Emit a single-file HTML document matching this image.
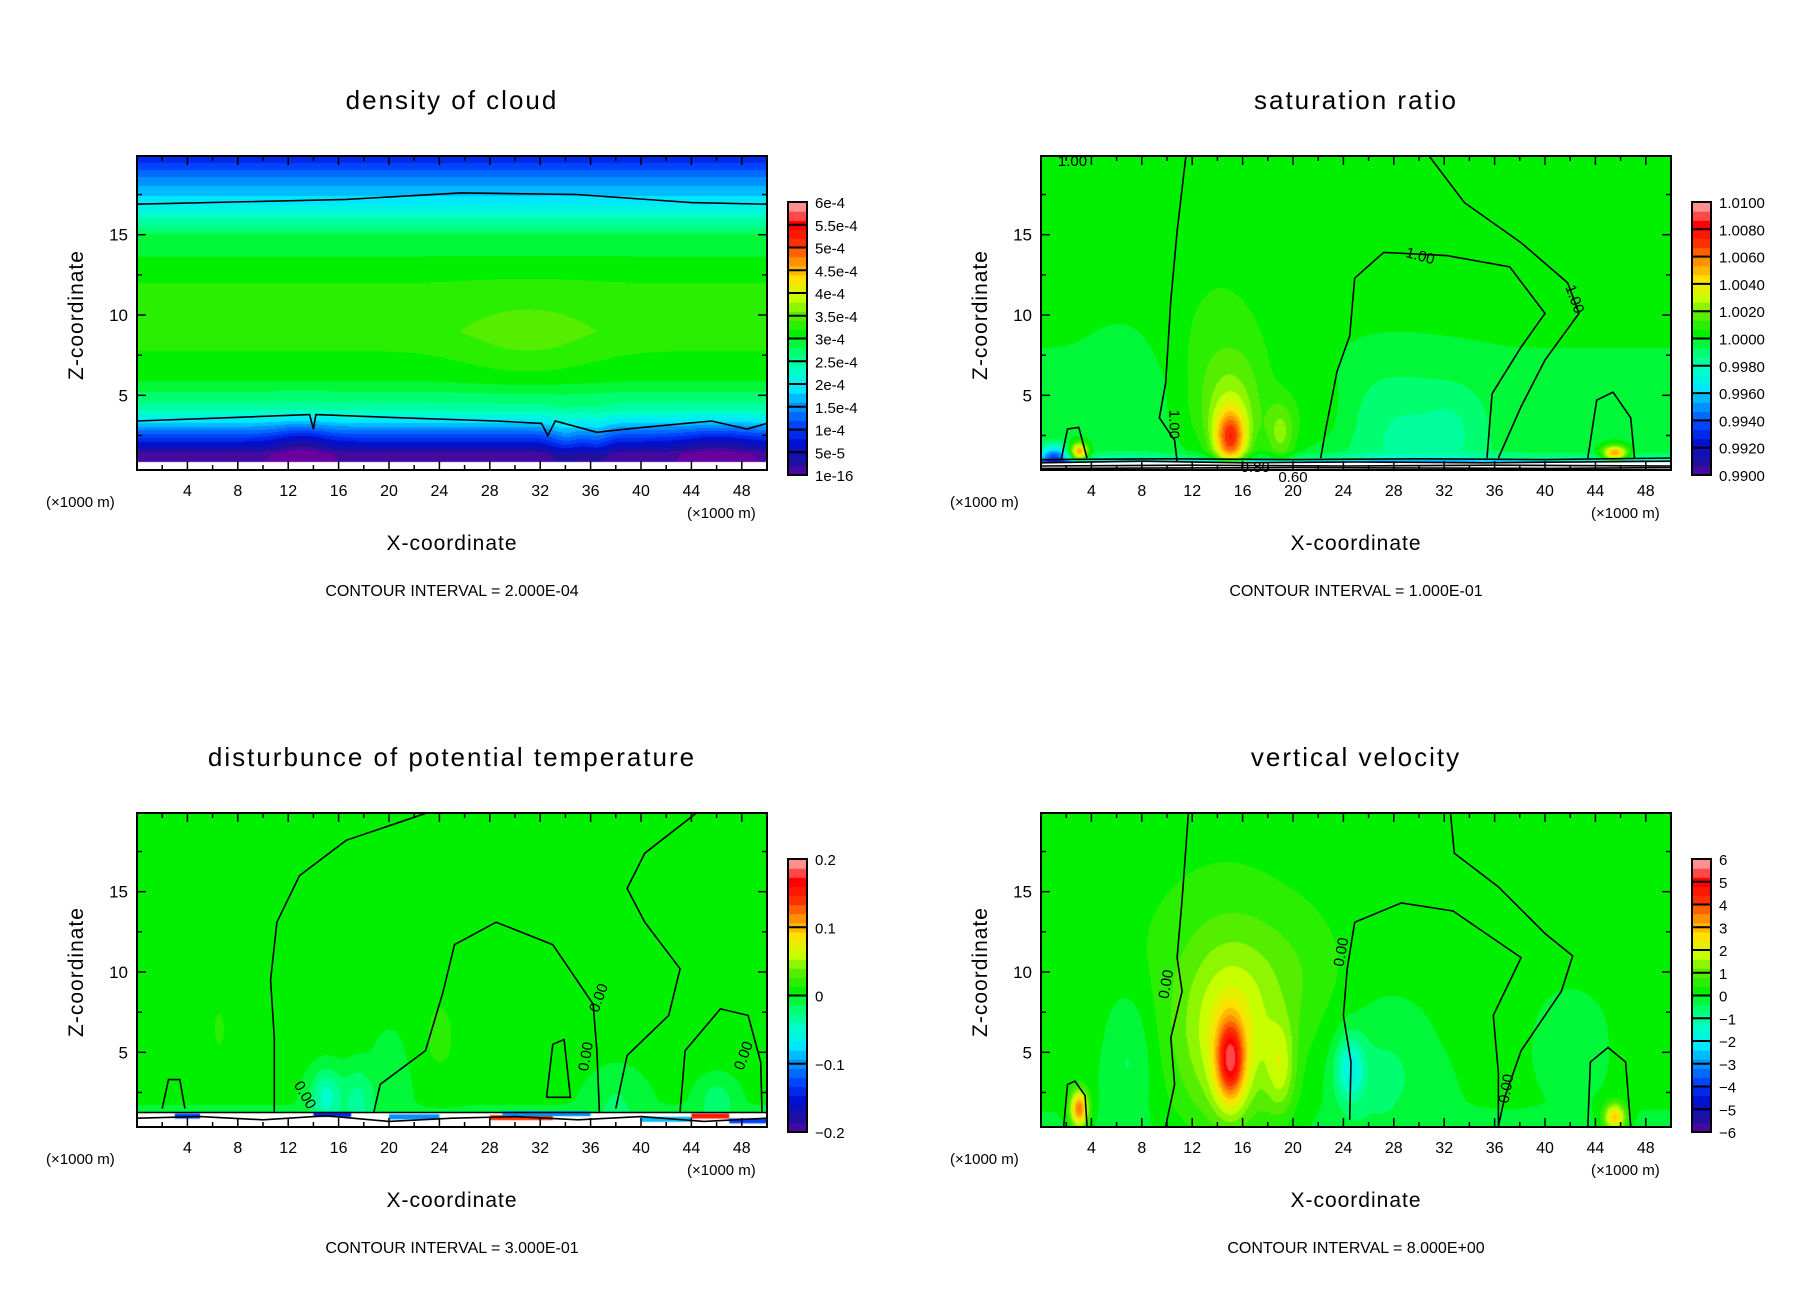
<!DOCTYPE html>
<html><head><meta charset="utf-8">
<style>
html,body{margin:0;padding:0;background:#fff;}
#root{position:relative;width:1808px;height:1308px;overflow:hidden;background:#fff;font-family:"Liberation Sans",sans-serif;}
canvas{position:absolute;}
svg{position:absolute;left:0;top:0;}
</style></head>
<body>
<div id="root">
<canvas id="c0"></canvas>
<canvas id="c1"></canvas>
<canvas id="c2"></canvas>
<canvas id="c3"></canvas>
<svg id="svg" width="1808" height="1308"></svg>
</div>
<script>
// ---- data arrays ----
const xTicks=[4,8,12,16,20,24,28,32,36,40,44,48];
const zTicks=[5,10,15];
const titles=["density of cloud","saturation ratio","disturbunce of potential temperature","vertical velocity"];
const intervals=["CONTOUR INTERVAL = 2.000E-04","CONTOUR INTERVAL = 1.000E-01","CONTOUR INTERVAL = 3.000E-01","CONTOUR INTERVAL = 8.000E+00"];
const cbLabels0=["6e-4","5.5e-4","5e-4","4.5e-4","4e-4","3.5e-4","3e-4","2.5e-4","2e-4","1.5e-4","1e-4","5e-5","1e-16"];
const cbLabels1=["1.0100","1.0080","1.0060","1.0040","1.0020","1.0000","0.9980","0.9960","0.9940","0.9920","0.9900"];
const cbLabels2=["0.2","0.1","0","\u22120.1","\u22120.2"];
const cbLabels3=["6","5","4","3","2","1","0","\u22121","\u22122","\u22123","\u22124","\u22125","\u22126"];
// vertical profiles (z, normalized level)
const prof0Z=[0.85,1.4,1.7,2.3,3.4,4.2,6,9,12,15,17,18.5,19.9];
const prof0T=[0.02,0.03,0.09,0.17,0.33,0.43,0.52,0.57,0.55,0.49,0.34,0.26,0.15];
const prof1Z=[0.9,1.1,1.6,3,6,9,12,19.9];
const prof1T=[0.3,0.44,0.5,0.51,0.51,0.52,0.53,0.53];
const prof2Z=[1.2,2,5,19.9];
const prof2T=[0.51,0.52,0.53,0.53];
const prof3Z=[0.35,2,6,19.9];
const prof3T=[0.51,0.52,0.53,0.53];
const whiteBelow=[0.85,0.85,1.25,0];
// blobs [x, z, amplitude, sx, sz]
const blobs0=[[31,8.5,0.035,4,2],[13,2,-0.06,1.5,1],[34,2.2,0.06,1,1.2],[36.5,2.2,0.05,0.8,1.2],[46,2,-0.05,2,0.8]];
const blobs1=[[15,2.3,0.3,0.9,1.3],[15,4.5,0.1,2,2.5],[14,8,0.03,4,4],[3,1.5,0.3,0.5,0.4],[45.5,1.4,0.3,0.7,0.35],[28,3,-0.06,3,2.5],[33,3,-0.05,2,2],[7,5,-0.03,2,3],[22,4,0.03,2,2],[19,2.5,0.1,0.8,1.5],[1,1.2,-0.25,0.8,0.5]];
const blobs2=[[15,2.3,-0.12,0.9,1.2],[17.5,2,-0.08,0.8,1.5],[20,3.5,-0.04,1,2],[24,6,0.03,1,2],[6.5,6.5,0.04,0.3,0.8],[38,2,-0.04,1.5,1.5],[46,2,-0.06,1,1]];
const blobs3=[[15,4.5,0.3,0.8,1.8],[15,6,0.12,2.5,4],[14,8,0.05,5,6],[19,4,0.1,0.8,2],[3,1.5,0.3,0.5,0.8],[45.5,1,0.24,0.6,0.6],[7,5,-0.06,1.5,3],[24.5,4,-0.14,0.8,1.4],[27,4,-0.05,3,3],[42,6,-0.04,2,2],[20,10,0.03,3,3]];
// contour lines (x,z pairs)
const lines0=[
 [[0,16.9],[16.6,17.2],[25.7,17.6],[34.9,17.5],[44,17],[50,16.9]],
 [[0,3.4],[7,3.6],[13.7,3.8],[14,2.9],[14.2,3.8],[21,3.6],[28.5,3.4],[32.1,3.25],[32.6,2.5],[33.2,3.4],[36.5,2.7],[40.1,3],[45.6,3.4],[48.4,2.9],[50,3.25]]];
const lines1=[
 [[11.5,19.9],[10.8,15.2],[10.3,10.9],[9.9,5.8],[9.4,3.6],[10.6,2.2],[10.8,0.9]],
 [[35.4,1.1],[35.8,5.1],[38.1,8],[40,10.1],[37.2,13],[32.2,13.7],[27.2,13.9],[24.9,12.3],[24.5,8.7],[23.5,6.5],[22.6,2.9],[22.2,1.1]],
 [[30.8,19.9],[33.6,17],[38.1,14.5],[41.8,12],[42.7,10.1],[40,7.2],[38.1,4.3],[36.3,1.1]],
 [[43.4,1.1],[44.1,4.7],[45.4,5.2],[46.8,3.6],[47.1,1.1]],
 [[1.6,1],[2.1,2.9],[3,3],[3.65,1.1]],
 [[0,1.0],[10,1.05],[20,1.0],[30,1.05],[40,1.0],[50,1.1]],
 [[0,0.8],[8,0.9],[16,0.8],[25,0.85],[35,0.8],[50,0.9]],
 [[0,0.6],[12,0.65],[24,0.6],[36,0.65],[50,0.6]],
 [[0,0.45],[20,0.5],[40,0.45],[50,0.5]]];
const lines2=[
 [[10.9,1.3],[10.9,5.9],[10.6,9.5],[11.1,13.1],[12.9,16],[16.6,18.2],[23,19.9]],
 [[18.8,1.3],[19.3,3],[22.9,5.1],[24.3,8.8],[25.2,11.7],[28.5,13.1],[33,11.7],[36.2,8],[36.5,5.1],[36.7,1.3]],
 [[32.5,2.2],[33,5.5],[33.9,5.8],[34.4,2.2],[32.5,2.2]],
 [[44.4,19.9],[40.3,17.4],[38.9,15.2],[40.3,13.1],[43.1,10.2],[42.2,7.3],[38.9,4.8],[38,1.5]],
 [[43.1,1.3],[43.5,5.1],[46.3,7.7],[48.5,7.3],[49.5,4.4],[49.6,1.3]],
 [[2,1.5],[2.5,3.3],[3.4,3.3],[3.8,1.5]],
 [[0,1.25],[50,1.25]],
 [[0,0.9],[5,1.0],[10,0.8],[15,1.05],[20,0.7],[25,0.9],[30,1.0],[35,0.8],[40,1.0],[45,0.7],[50,0.9]]];
const lines3=[
 [[11.7,19.9],[11.2,14.5],[10.8,10.9],[11.2,8.8],[10.3,5.9],[10.6,3],[9.9,0.4]],
 [[24.9,13.1],[28.6,14.3],[32.7,13.8],[38.1,10.9],[35.9,7.3],[36.3,3.7],[36.3,0.4]],
 [[24.9,13.1],[24.3,10.2],[24,7.3],[24.6,4.4],[24.5,0.8]],
 [[32.5,19.9],[32.8,17.4],[36.3,15.3],[40,12.4],[42.2,11],[41.3,8.8],[38.1,5.1],[36.8,2.2],[36.3,0.4]],
 [[43.4,0.4],[43.6,4.4],[45,5.3],[46.4,4.4],[46.8,0.4]],
 [[1.8,0.4],[2.1,3],[2.7,3.2],[3.5,2.3],[3.65,0.4]]];
const labels1=[["1.00",2.5,19.6,0],["1.00",30,13.7,15],["1.00",42,11.2,70],["1.00",10.2,3.5,90],["0.80",17,0.55,0],["0.60",20,-0.1,0]];
const labels2=[["0.00",13,2.5,60],["0.00",37,8.6,-70],["0.00",36,5.0,-80],["0.00",48.5,5,-70]];
const labels3=[["0.00",10.3,9.5,-80],["0.00",24.2,11.5,-80],["0.00",37.3,3,-80]];
// streaks in the lower band of panel 3: [x0, x1, z, colorLevel]
const streaks2=[[3,5,1.0,0.2],[14,17,1.1,0.15],[20,24,0.95,0.25],[28,33,0.9,0.85],[29,36,1.15,0.25],[40,44,0.8,0.3],[44,47,1.0,0.9],[47,50,0.7,0.2]];

// ---- geometry ----
const colX=[137,1041], rowY=[156,813], PW=630, PH=314;
const zMin=0.35, zMax=19.9, xMin=0, xMax=50;
const stops=[[0,"#6a00a0"],[0.067,"#2010a0"],[0.133,"#0010d0"],[0.2,"#0044ff"],[0.267,"#0090ff"],[0.333,"#00e8ff"],[0.4,"#00ffc8"],[0.467,"#00ff70"],[0.533,"#00f000"],[0.6,"#55ee00"],[0.667,"#c8ff00"],[0.733,"#ffe000"],[0.8,"#ff9000"],[0.867,"#ff3000"],[0.933,"#ff0000"],[1,"#ff9090"]];
function hex(h){return [parseInt(h.substr(1,2),16),parseInt(h.substr(3,2),16),parseInt(h.substr(5,2),16)];}
function cmap(t){t=Math.max(0,Math.min(1,t));t=Math.round(t*30)/30;
 for(let i=1;i<stops.length;i++){if(t<=stops[i][0]){const a=hex(stops[i-1][1]),b=hex(stops[i][1]);const f=(t-stops[i-1][0])/(stops[i][0]-stops[i-1][0]);return [0,1,2].map(k=>Math.round(a[k]+(b[k]-a[k])*f));}}
 return hex(stops[stops.length-1][1]);}
function interp(zs,ts,z){if(z<=zs[0])return ts[0];for(let i=1;i<zs.length;i++){if(z<=zs[i]){const f=(z-zs[i-1])/(zs[i]-zs[i-1]);return ts[i-1]+(ts[i]-ts[i-1])*f;}}return ts[ts.length-1];}
const profZ=[prof0Z,prof1Z,prof2Z,prof3Z],profT=[prof0T,prof1T,prof2T,prof3T],blobs=[blobs0,blobs1,blobs2,blobs3];
function field(p,x,z){let t=interp(profZ[p],profT[p],z);for(const b of blobs[p]){const dx=(x-b[0])/b[3],dz=(z-b[1])/b[4];t+=b[2]*Math.exp(-0.5*(dx*dx+dz*dz));}return t;}

const NS="http://www.w3.org/2000/svg";
const svg=document.getElementById('svg');
function mk(tag,attrs,parent){const e=document.createElementNS(NS,tag);for(const k in attrs)e.setAttribute(k,attrs[k]);(parent||svg).appendChild(e);return e;}
function txt(s,x,y,size,anchor,parent,rot){const e=mk('text',{x:x,y:y,'font-size':size,'text-anchor':anchor||'middle','font-family':'Liberation Sans, sans-serif',fill:'#000'},parent);if(rot!==undefined)e.setAttribute('transform','rotate('+rot+' '+x+' '+y+')');e.textContent=s;return e;}

const allLines=[lines0,lines1,lines2,lines3],allLabels=[[],labels1,labels2,labels3],cbAll=[cbLabels0,cbLabels1,cbLabels2,cbLabels3];
for(let p=0;p<4;p++){
 const ox=colX[p%2], oy=rowY[Math.floor(p/2)];
 const sx=x=>ox+(x-xMin)/(xMax-xMin)*PW;
 const sz=z=>oy+PH-(z-zMin)/(zMax-zMin)*PH;
 const cv=document.getElementById('c'+p);cv.width=PW;cv.height=PH;cv.style.left=ox+'px';cv.style.top=oy+'px';
 const ctx=cv.getContext('2d');const img=ctx.createImageData(PW,PH);
 for(let j=0;j<PH;j++){const z=zMax-(j/PH)*(zMax-zMin);
  for(let i=0;i<PW;i++){const x=(i/PW)*(xMax-xMin);let c;
   if(z<whiteBelow[p]) c=[255,255,255]; else c=cmap(field(p,x,z));
   const k=(j*PW+i)*4;img.data[k]=c[0];img.data[k+1]=c[1];img.data[k+2]=c[2];img.data[k+3]=255;}}
 ctx.putImageData(img,0,0);
 if(p===2){for(const s of streaks2){const c=cmap(s[3]);ctx.fillStyle='rgb('+c.join(',')+')';ctx.fillRect(sx(s[0])-ox,sz(s[2])-oy-3,sx(s[1])-sx(s[0]),5);}}
 const g=mk('g',{});
 
 
 for(const ln of allLines[p]){const d=ln.map((q,i)=>(i?'L':'M')+sx(q[0]).toFixed(1)+' '+sz(q[1]).toFixed(1)).join(' ');
  const pa=mk('path',{d:d,fill:'none',stroke:'#000','stroke-width':1.6},g);
  
  }
 for(const lb of allLabels[p]){const t=txt(lb[0],sx(lb[1]),sz(lb[2])+5,15,'middle',g,lb[3]);
  
  }
 const fr=mk('rect',{x:ox,y:oy,width:PW,height:PH,fill:'none',stroke:'#000','stroke-width':2},g);
 
 
 for(let x=2;x<50;x+=2){const L=(x%4===0)?9:5;
  mk('line',{x1:sx(x),y1:oy+PH,x2:sx(x),y2:oy+PH-L,stroke:'#000','stroke-width':1.5},g);
  mk('line',{x1:sx(x),y1:oy,x2:sx(x),y2:oy+L,stroke:'#000','stroke-width':1.5},g);}
 for(let z=2.5;z<zMax;z+=2.5){const L=(z%5===0)?9:5;
  mk('line',{x1:ox,y1:sz(z),x2:ox+L,y2:sz(z),stroke:'#000','stroke-width':1.5},g);
  mk('line',{x1:ox+PW,y1:sz(z),x2:ox+PW-L,y2:sz(z),stroke:'#000','stroke-width':1.5},g);}
 for(const x of xTicks){const t=txt(String(x),sx(x),oy+PH+26,16,'middle',g);
  
  }
 for(const z of zTicks){const t=txt(String(z),ox-9,sz(z)+6,17,'end',g);
  
  }
 const cx=ox+PW/2;
 const ti=txt(titles[p],cx,oy-47,26,'middle',g);ti.setAttribute('letter-spacing','2');
 
 
 const xl=txt('X-coordinate',cx,oy+PH+80,21,'middle',g);xl.setAttribute('letter-spacing','1');
 
 
 const yl=txt('Z-coordinate',ox-54,oy+159,21,'middle',g,-90);yl.setAttribute('letter-spacing','1');
 
 
 const u1=txt('(\u00d71000 m)',ox-91,oy+PH+37,15,'start',g);
 
 
 const u2=txt('(\u00d71000 m)',ox+PW-80,oy+PH+48,15,'start',g);
 
 
 const ci=txt(intervals[p],cx,oy+PH+126,16,'middle',g);
 
 
 const bx=ox+651, by=oy+46, bw=19, bh=273, labs=cbAll[p], n=labs.length-1;
 const cb=mk('g',{},g);
 
 
 const steps=30;
 for(let s=0;s<steps;s++){const c=cmap((s+0.5)/steps);mk('rect',{x:bx,y:by+bh-(s+1)*bh/steps,width:bw,height:bh/steps+0.6,fill:'rgb('+c.join(',')+')'},cb);}
 for(let i=0;i<=n;i++){const y=by+i*bh/n;
  mk('line',{x1:bx,y1:y,x2:bx+bw,y2:y,stroke:'#000','stroke-width':2},cb);
  const t=txt(labs[i],bx+27,y+6,15,'start',cb);
  
  }
 mk('rect',{x:bx,y:by,width:bw,height:bh,fill:'none',stroke:'#000','stroke-width':2},cb);
}
</script>
</body></html>
